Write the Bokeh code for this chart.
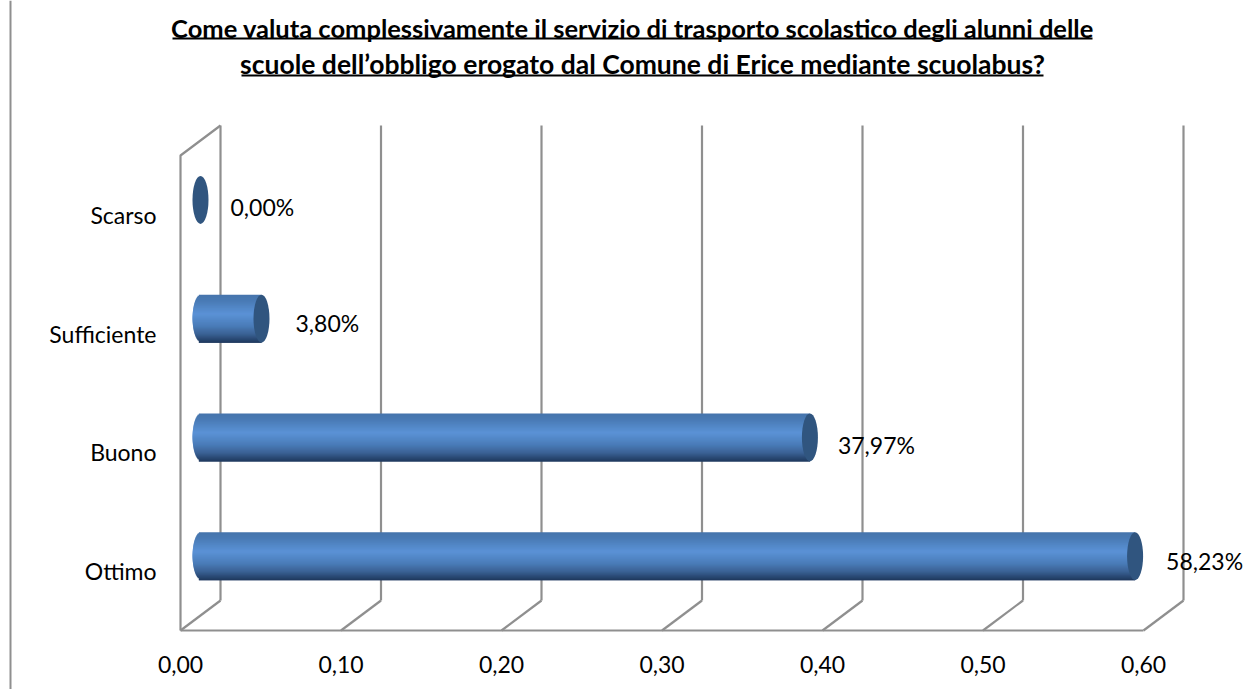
import math
from bokeh.plotting import figure
from bokeh.embed import file_html
from bokeh.resources import INLINE
from bokeh.models import Range1d, FixedTicker, LinearAxis, Label, BoxAnnotation, ColumnDataSource
from bokeh.core.properties import value

categories = ["Ottimo", "Buono", "Sufficiente", "Scarso"]
shares = [0.5823, 0.3797, 0.0380, 0.0]
x_ticks = [0.0, 0.1, 0.2, 0.3, 0.4, 0.5, 0.6]
x_tick_labels = ["0,00", "0,10", "0,20", "0,30", "0,40", "0,50", "0,60"]
title_lines = [
    "Come valuta complessivamente il servizio di trasporto scolastico degli alunni delle",
    "scuole dell\u2019obbligo erogato dal Comune di Erice mediante scuolabus?",
]

FONT = "Lato"
W, H = 1246, 689
PX_X, PX_Y = 1605.0, 118.75        # pixels per data unit
x0 = -180 / PX_X
y0 = -0.5 - 59 / PX_Y              # the frame spans the whole picture
x1 = x0 + W / PX_X
y1 = y0 + H / PX_Y
depth_x, depth_y = 40 / PX_X, 30 / PX_Y
bar_dx, bar_dy = 20 / PX_X, 15 / PX_Y
cap_w, bar_h = 16 / PX_X, 48 / PX_Y

def sy(py):
    return H - py

p = figure(width=W, height=H, output_backend="svg", toolbar_location=None,
           x_range=Range1d(x0, x1), y_range=Range1d(y0, y1),
           min_border_left=0, min_border_right=0, min_border_top=0, min_border_bottom=0,
           x_axis_type=None, y_axis_type=None, background_fill_color="white",
           border_fill_color="white", outline_line_color=None)
p.grid.visible = False

xa = LinearAxis(ticker=FixedTicker(ticks=x_ticks),
                major_label_overrides=dict(zip(x_ticks, x_tick_labels)),
                fixed_location=-0.5 - 4 / PX_Y)
ya = LinearAxis(ticker=FixedTicker(ticks=list(range(len(categories)))),
                major_label_overrides=dict(enumerate(categories)),
                fixed_location=0.0)
for ax, st in ((xa, 15), (ya, 18)):
    ax.axis_line_color = None
    ax.major_tick_line_color = None
    ax.minor_tick_line_color = None
    ax.major_label_standoff = st
    ax.major_label_text_font = FONT
    ax.major_label_text_font_size = "23px"
    ax.major_label_text_color = "#000000"
p.add_layout(xa, "below")
p.add_layout(ya, "left")

GRID = "#8f8f8f"
front_b, front_t = -0.5, 3.5
def gl(xs, ys):
    p.line(xs, ys, line_color=GRID, line_width=2.2, line_alpha=1)
for v in x_ticks:
    gl([v + depth_x, v + depth_x], [front_b + depth_y, front_t + depth_y])
    gl([v, v + depth_x], [front_b, front_b + depth_y])
gl([0, 0, depth_x], [front_b, front_t, front_t + depth_y])
gl([0, x_ticks[-1]], [front_b, front_b])

# cylinder shading, top to bottom
stops = [(0.0, (70, 116, 172)), (0.12, (73, 122, 180)), (0.40, (91, 146, 214)),
         (0.65, (74, 124, 184)), (0.82, (58, 97, 148)), (1.0, (30, 56, 92))]
def shade(t):
    for (a, ca), (b, cb) in zip(stops, stops[1:]):
        if t <= b:
            f = (t - a) / (b - a)
            return "#%02x%02x%02x" % tuple(round(u + (w - u) * f) for u, w in zip(ca, cb))
    return "#1e385c"

N = 48
def half_w(k):
    u = 2 * (min(k, N - 1) + 0.5) / N - 1
    return cap_w / 2 * math.sqrt(max(0, 1 - u * u))

for i, v in enumerate(shares):
    yc = i + bar_dy
    xc = bar_dx
    if v > 0:
        ls, rs, ts, bs, cs = [], [], [], [], []
        for k in range(N):
            # each strip runs under the next ones, so no white shows at the seams
            ls.append(xc - min(half_w(k), half_w(k + 2)))
            rs.append(xc + v)
            ts.append(yc + bar_h / 2 - k / N * bar_h)
            bs.append(yc + bar_h / 2 - min(k + 2, N) / N * bar_h)
            cs.append(shade((k + 0.5) / N))
        p.quad(left=ls, right=rs, top=ts, bottom=bs, fill_color=cs, fill_alpha=1, line_color=None)
    p.ellipse(x=[xc + v], y=[yc], width=cap_w, height=bar_h, fill_color="#30557f", fill_alpha=1, line_color=None)

label_dx = [31, 28, 34, 30]
label_dy = [5, 8, 4, 7]
src = ColumnDataSource(dict(
    x=[bar_dx + v for v in shares], y=[i + bar_dy for i in range(len(shares))],
    t=[f"{v * 100:.2f}".replace(".", ",") + "%" for v in shares],
    dx=label_dx, dy=label_dy))
p.text(x="x", y="y", text="t", x_offset="dx", y_offset="dy", source=src,
       text_font=value(FONT), text_font_size="23px", text_color="#000000",
       text_align="left", text_baseline="middle")

for line, tx, ty, fs in zip(title_lines, (632, 642), (27, 63), ("25.5px", "26.5px")):
    p.add_layout(Label(x=tx, y=sy(ty), x_units="screen", y_units="screen", text=line,
                       text_font=FONT, text_font_style="bold", text_font_size=fs,
                       text_color="#000000", text_align="center", text_baseline="middle"))
def rule(a, b, t, h, color):
    p.add_layout(BoxAnnotation(left=a, right=b, top=sy(t), bottom=sy(t + h),
                               left_units="screen", right_units="screen",
                               top_units="screen", bottom_units="screen",
                               fill_color=color, fill_alpha=1, line_color=None))
rule(172, 1092, 37, 2, "#000000")
rule(241, 1043, 74, 2, "#000000")
rule(9, 11, 0, 689, "#8f8f8f")

open("out.html", "w").write(file_html(p, INLINE))
